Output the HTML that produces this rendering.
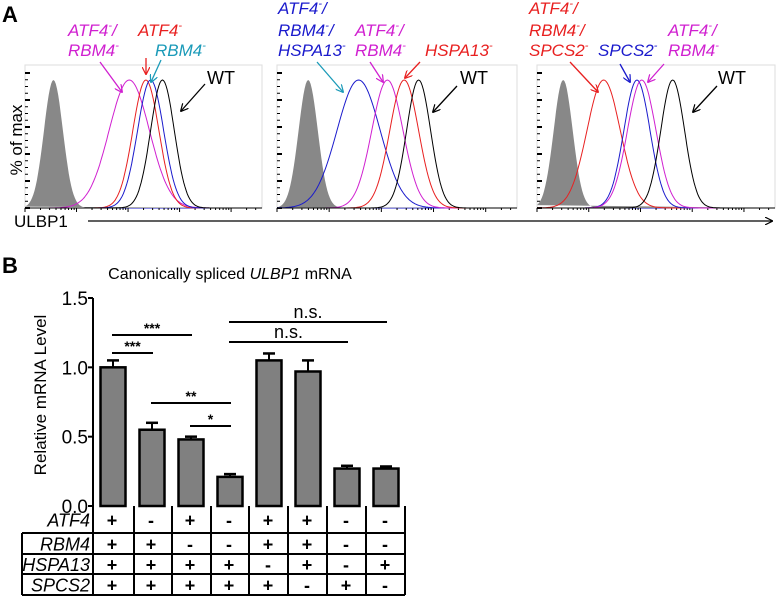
<!DOCTYPE html>
<html><head><meta charset="utf-8"><style>
body{margin:0;background:#fff;}
svg{display:block;font-family:"Liberation Sans",Arial,sans-serif;}
</style></head><body>
<svg id="fig" width="777" height="597" viewBox="0 0 777 597" xmlns="http://www.w3.org/2000/svg">
<defs>
<marker id="ah" viewBox="0 0 10 10" refX="9" refY="5" markerWidth="8" markerHeight="8" orient="auto-start-reverse" markerUnits="userSpaceOnUse"><path d="M0,0 L10,5 L0,10" fill="none" stroke="context-stroke" stroke-width="1.5"/></marker>
</defs>
<text x="2" y="22" font-size="22" font-weight="bold">A</text>
<text x="2" y="273" font-size="22" font-weight="bold">B</text>
<text transform="translate(22,140) rotate(-90)" text-anchor="middle" font-size="17">% of max</text>
<text x="14" y="227" font-size="17">ULBP1</text>
<line x1="88" y1="221" x2="772" y2="221" stroke="#000" stroke-width="1.2" marker-end="url(#ah)"/>
<g id="histos"></g>
<g id="labels" font-size="17" font-style="italic"></g>
<text x="230" y="279" text-anchor="middle" font-size="16">Canonically spliced <tspan font-style="italic">ULBP1</tspan> mRNA</text>
<text transform="translate(46,395) rotate(-90)" text-anchor="middle" font-size="17">Relative mRNA Level</text>
<g id="bars"></g>
<g id="table"></g>
</svg>
<script>
const NS="http://www.w3.org/2000/svg";
function mk(tag,attrs,parent){const e=document.createElementNS(NS,tag);for(const k in attrs)e.setAttribute(k,attrs[k]);parent.appendChild(e);return e;}

const panelBoxes=[[25,262],[277,517],[537,775]];
const curveColors=["gray","#d020d0","#e82020","#1a1acc","#000"];
const p1Centers=[0.12,0.44,0.51,0.53,0.58];
const p1Spreads=[0.04,0.085,0.055,0.055,0.05];
const p2Centers=[0.13,0.34,0.46,0.53,0.59];
const p2Spreads=[0.04,0.09,0.065,0.06,0.05];
const p2Colors=["gray","#1a1acc","#d020d0","#e82020","#000"];
const p3Centers=[0.11,0.28,0.42,0.44,0.57];
const p3Spreads=[0.04,0.07,0.055,0.06,0.05];
const p3Colors=["gray","#e82020","#1a1acc","#d020d0","#000"];
const panelCenters=[p1Centers,p2Centers,p3Centers];
const panelSpreads=[p1Spreads,p2Spreads,p3Spreads];
const panelColors=[curveColors,p2Colors,p3Colors];
const topY=65,botY=208,peakY=80;

const hg=document.getElementById('histos');
panelBoxes.forEach((b,pi)=>{
  const [x0,x1]=b;const w=x1-x0;
  const box=mk('rect',{x:x0,y:topY,width:w,height:botY-topY,fill:'none',stroke:'#ddd','stroke-width':1},hg);
  
  
  for(let i=0;i<=20;i++){const y=botY-i*(botY-topY-8)/20;mk('line',{x1:x0,x2:x0+(i%4==0?5:3),y1:y,y2:y,stroke:'#000','stroke-width':i%4==0?2:1},hg);}
  mk('line',{x1:x0,x2:x1,y1:botY,y2:botY,stroke:'#1a1acc','stroke-width':1},hg);
  for(let d=0;d<5;d++){for(let k=1;k<10;k++){const x=x0+w*(d+Math.log10(k))/4.6;if(x>x1)continue;mk('line',{x1:x,x2:x,y1:botY,y2:botY+(k==1?4:2),stroke:'#000','stroke-width':1},hg);}}
  const cs=panelCenters[pi],ss=panelSpreads[pi],cols=panelColors[pi];
  cs.forEach((c,ci)=>{
    let pts=[];
    for(let i=0;i<=200;i++){const f=i/200;const z=(f-c)/ss[ci];let v=Math.exp(-z*z/2);pts.push([x0+f*w,botY-v*(botY-peakY)]);}
    const d='M'+pts.map(p=>p[0].toFixed(1)+','+p[1].toFixed(1)).join(' L');
    const p=mk('path',{d:ci==0?d+' Z':d,fill:ci==0?'#888':'none',stroke:ci==0?'none':cols[ci],'stroke-width':1},hg);
    
    
  });
});

// label text: base name, then whether followed by slash
const lbls=[
 [68,36,"ATF4","/","#d020d0"],[68,56,"RBM4","","#d020d0"],[138,36,"ATF4","","#e82020"],[155,56,"RBM4","","#1a9ab8"],
 [278,14,"ATF4","/","#1a1acc"],[278,36,"RBM4","/","#1a1acc"],[278,56,"HSPA13","","#1a1acc"],
 [355,36,"ATF4","/","#d020d0"],[355,56,"RBM4","","#d020d0"],[425,56,"HSPA13","","#e82020"],
 [529,14,"ATF4","/","#e82020"],[529,36,"RBM4","/","#e82020"],[529,56,"SPCS2","","#e82020"],
 [598,56,"SPCS2","","#1a1acc"],[668,36,"ATF4","/","#d020d0"],[668,56,"RBM4","","#d020d0"]];
const lg=document.getElementById('labels');
lbls.forEach(l=>{const t=mk('text',{x:l[0],y:l[1],fill:l[4]},lg);
 t.appendChild(document.createTextNode(l[1+1]));
 const s=mk('tspan',{'font-size':11,dy:-7},t);s.textContent='-';
 if(l[3]){const s2=mk('tspan',{dy:7},t);s2.textContent=l[3];}
 
 });
[207,460,718].forEach(x=>{const t=mk('text',{x:x,y:84,'font-size':18,fill:'#000'},document.getElementById('fig'));t.textContent='WT';

});
const arrows=[[100,62,122,92,"#d020d0"],[146,58,146,74,"#e82020"],[161,60,151,82,"#1a9ab8"],[205,84,181,111,"#000"],
 [317,62,343,92,"#1a9ab8"],[370,62,383,82,"#d020d0"],[420,62,405,78,"#e82020"],[457,86,433,112,"#000"],
 [570,62,598,92,"#e82020"],[620,64,630,82,"#1a1acc"],[664,64,648,82,"#d020d0"],[717,86,693,112,"#000"]];
arrows.forEach(a=>{const l=mk('line',{x1:a[0],y1:a[1],x2:a[2],y2:a[3],stroke:a[4],'stroke-width':1.3,'marker-end':'url(#ah)'},lg);

});

const barValues=[1.0,0.55,0.48,0.21,1.05,0.97,0.27,0.27];
const barErrors=[0.05,0.05,0.02,0.02,0.05,0.08,0.02,0.015];
const yTicks=[0,0.5,1.0,1.5];
const yTickLabels=["0.0","0.5","1.0","1.5"];
const atf4=["+","-","+","-","+","+","-","-"];
const rbm4=["+","+","-","-","+","+","-","-"];
const hspa13=["+","+","+","+","-","+","-","+"];
const spcs2=["+","+","+","+","+","-","+","-"];
const sig=[[0,1,353,"***"],[0,2,335,"***"],[1,3,403,"**"],[2,3,426,"*"],[3,7,322,"n.s."],[3,6,342,"n.s."]];

const axX=93,y0=506,yScale=v=>y0-v*(208/1.5);
const xC=i=>113+i*39;
const bg=document.getElementById('bars');
const ax=mk('line',{x1:axX,x2:axX,y1:y0,y2:yScale(1.5),stroke:'#000','stroke-width':2},bg);


yTicks.forEach((v,i)=>{const y=yScale(v);mk('line',{x1:axX-5,x2:axX,y1:y,y2:y,stroke:'#000','stroke-width':2},bg);
const t=mk('text',{x:axX-5,y:y+7,'text-anchor':'end','font-size':19},bg);t.textContent=yTickLabels[i];

});
barValues.forEach((v,i)=>{
  const x=xC(i),e=barErrors[i];
  mk('line',{x1:x,x2:x,y1:yScale(v),y2:yScale(v+e),stroke:'#000','stroke-width':2},bg);
  mk('line',{x1:x-6,x2:x+6,y1:yScale(v+e),y2:yScale(v+e),stroke:'#000','stroke-width':2.5},bg);
  const r=mk('rect',{x:x-12.5,y:yScale(v),width:25,height:y0-yScale(v),fill:'#808080',stroke:'#000','stroke-width':2.5},bg);
  
  
});
sig.forEach(s=>{const x1=xC(s[0])-1,x2=xC(s[1])+1;
 const l=mk('line',{x1:x1,x2:x2,y1:s[2],y2:s[2],stroke:'#000','stroke-width':2},bg);
 
 
 const ns=s[3]=="n.s.";
 const t=mk('text',{x:(x1+x2)/2,y:ns?s[2]-4:s[2]-2,'text-anchor':'middle','font-size':ns?18:14,'font-weight':ns?'normal':'bold'},bg);t.textContent=s[3];
 
 });

const tg=document.getElementById('table');
const rowsY=[506,533,554,574,595];
const rowNames=["ATF4","RBM4","HSPA13","SPCS2"];
const rowData=[atf4,rbm4,hspa13,spcs2];
const colX=[93,134,172,211,249,288,327,366,405];
const L=(a,b,c,d)=>mk('line',{x1:a,y1:b,x2:c,y2:d,stroke:'#000','stroke-width':2},tg);
for(let r=1;r<5;r++)L(22,rowsY[r],405,rowsY[r]);
L(22,533,22,595);
colX.forEach(x=>L(x,506,x,595));
rowNames.forEach((n,r)=>{const yc=(rowsY[r]+rowsY[r+1])/2+7;
 const t=mk('text',{x:90,y:yc,'text-anchor':'end','font-size':18,'font-style':'italic'},tg);t.textContent=n;
 
 
 rowData[r].forEach((s,i)=>{const c=mk('text',{x:xC(i)-1,y:yc,'text-anchor':'middle','font-size':18,'font-weight':'bold'},tg);c.textContent=s;
 
 });});
</script>
</body></html>
